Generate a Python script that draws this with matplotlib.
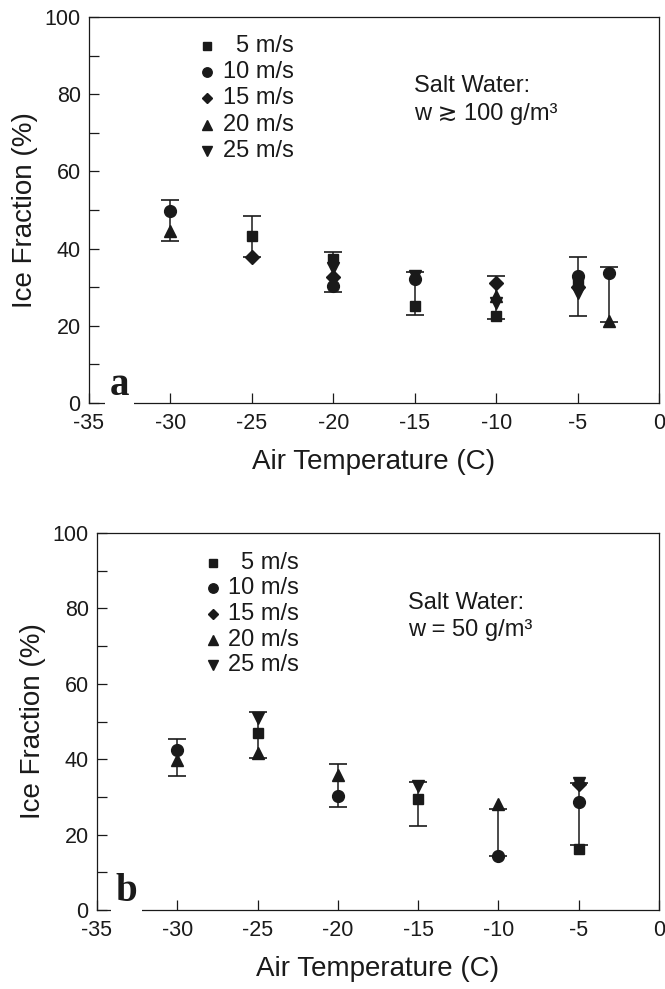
import numpy as np
import matplotlib
matplotlib.use('Agg')
import matplotlib.pyplot as plt

plt.rcParams['font.family'] = ['Liberation Sans', 'DejaVu Sans']
plt.rcParams['axes.unicode_minus'] = False

# wind speeds and their symbols
speed_labels = ['5 m/s', '10 m/s', '15 m/s', '20 m/s', '25 m/s']
speed_markers = ['s', 'o', 'D', '^', 'v']

# panel a : salt water, w >= 100 g/m3
a_temp = [[-25, -20, -15, -10, -5],
          [-30, -20, -15, -5, -3.1],
          [-25, -20, -10, -5],
          [-30, -10, -3.1],
          [-20, -15, -10, -5]]
a_frac = [[43.3, 37.3, 25.2, 22.6, 31.6],
          [49.7, 30.3, 32.0, 33.0, 33.7],
          [37.8, 32.6, 31.1, 30.0],
          [44.5, 27.6, 21.2],
          [35.0, 33.0, 25.8, 28.6]]
a_bar_temp = [-30, -25, -20, -15, -10, -5, -3.1]
a_bar_lo = [42.0, 37.8, 28.8, 22.8, 21.8, 22.5, 21.0]
a_bar_hi = [52.6, 48.4, 39.2, 34.0, 32.9, 37.8, 35.2]

# panel b : salt water, w = 50 g/m3
b_temp = [[-25, -15, -5],
          [-30, -20, -10, -5],
          [-5],
          [-30, -25, -20, -10],
          [-25, -15, -5]]
b_frac = [[46.9, 29.4, 16.2],
          [42.4, 30.2, 14.3, 28.6],
          [33.3],
          [39.8, 41.6, 35.8, 28.0],
          [50.9, 32.9, 33.6]]
b_bar_temp = [-30, -25, -20, -15, -10, -5]
b_bar_lo = [35.5, 40.4, 27.4, 22.3, 14.3, 17.2]
b_bar_hi = [45.4, 52.4, 38.7, 34.0, 26.8, 33.7]

marker_size = {'s': 7.5, 'o': 8.5, 'D': 7, '^': 8.5, 'v': 8.5}
ink = '#1a1a1a'


def panel(ax, temps, fracs, bar_t, bar_lo, bar_hi, note, letter, leg_x, leg_y, note_x, note_y, let_x, let_y):
    lo = np.array(bar_lo)
    hi = np.array(bar_hi)
    ax.errorbar(bar_t, (lo + hi) / 2, yerr=(hi - lo) / 2, fmt='none',
                ecolor=ink, elinewidth=1.1, capsize=6.5, capthick=1.2, zorder=2)
    for t, f, m in zip(temps, fracs, speed_markers):
        ax.plot(t, f, linestyle='none', marker=m, color=ink,
                markersize=marker_size[m], zorder=3)

    # legend drawn by hand so the labels line up on the right
    for i, (lab, m) in enumerate(zip(speed_labels, speed_markers)):
        y = leg_y[i]
        ax.plot([leg_x], [y], marker=m, color=ink, markersize=marker_size[m] * 0.8,
                transform=ax.transAxes, linestyle='none')
        ax.text(leg_x + 0.153, y, lab, transform=ax.transAxes, ha='right', va='center',
                fontsize=17, color=ink)

    ax.text(note_x, note_y[0], 'Salt Water:', transform=ax.transAxes, ha='left',
            va='center', fontsize=17, color=ink)
    ax.text(note_x, note_y[1], note, transform=ax.transAxes, ha='left',
            va='center', fontsize=17, color=ink)

    ax.text(let_x, let_y, letter, transform=ax.transAxes, ha='center', va='baseline',
            fontsize=28, fontweight='bold', family=['Liberation Serif', 'DejaVu Serif'],
            color=ink, zorder=5,
            bbox=dict(boxstyle='square,pad=0.12', facecolor='white', edgecolor='none'))

    ax.set_xlim(-35, 0)
    ax.set_ylim(0, 100)
    ax.set_xticks(np.arange(-35, 1, 5))
    ax.set_yticks(np.arange(0, 101, 20))
    ax.set_yticks(np.arange(10, 100, 20), minor=True)
    ax.tick_params(which='both', direction='in', length=7.5, width=0.9,
                   top=False, right=False, colors=ink, labelsize=15.5, pad=6)
    ax.tick_params(axis='x', pad=7)
    for s in ax.spines.values():
        s.set_linewidth(0.9)
        s.set_color(ink)
    ax.set_xlabel('Air Temperature (C)', fontsize=20, color=ink, labelpad=11)
    ax.set_ylabel('Ice Fraction (%)', fontsize=20, color=ink, labelpad=5)


fig = plt.figure(figsize=(6.65, 9.89), dpi=100)
ax_a = fig.add_axes([89 / 665, 1 - 403 / 989, 570 / 665, 386 / 989])
ax_b = fig.add_axes([97 / 665, 1 - 910 / 989, 562 / 665, 377 / 989])

panel(ax_a, a_temp, a_frac, a_bar_temp, a_bar_lo, a_bar_hi,
      'w \u2273 100 g/m\u00b3', 'a',
      0.207, [0.925, 0.858, 0.790, 0.720, 0.653],
      0.570, [0.821, 0.749], 0.054, 0.02)
panel(ax_b, b_temp, b_frac, b_bar_temp, b_bar_lo, b_bar_hi,
      'w = 50 g/m\u00b3', 'b',
      0.206, [0.920, 0.854, 0.785, 0.716, 0.650],
      0.553, [0.814, 0.743], 0.053, 0.024)

fig.savefig('out.png', dpi=100)
